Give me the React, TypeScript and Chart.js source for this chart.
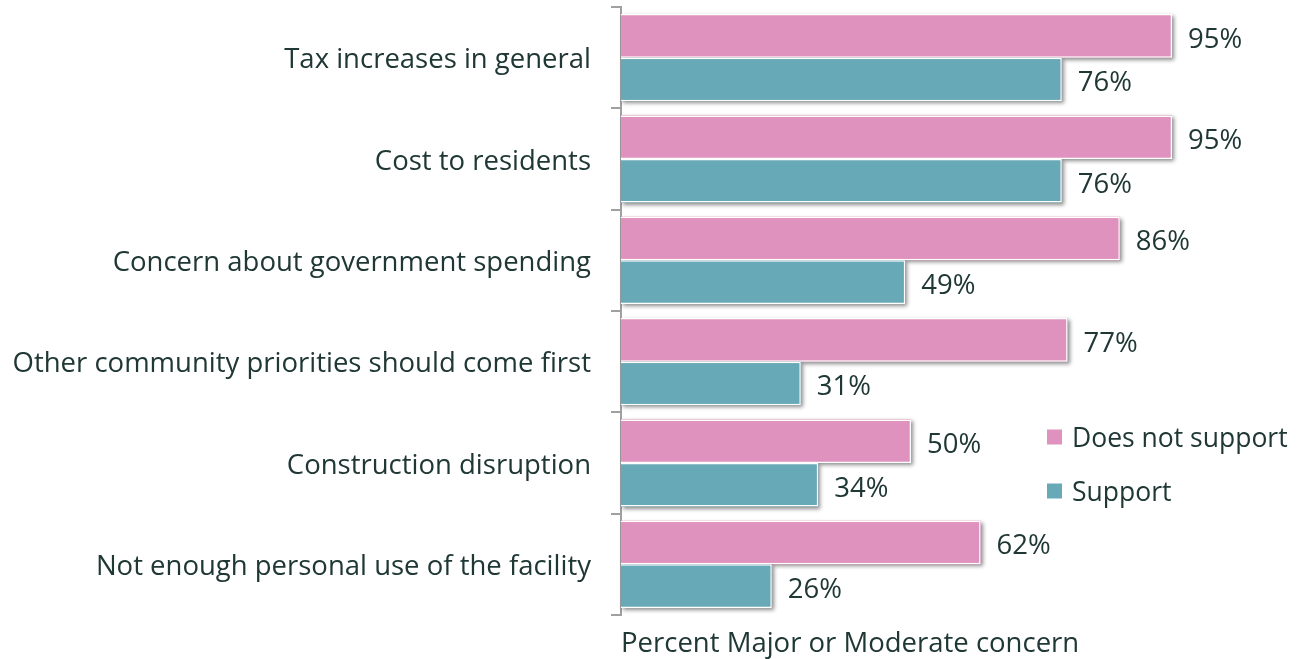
import React, { useEffect, useRef } from "react";
import { Chart, registerables } from "chart.js";

Chart.register(...registerables);

const categories = [
  "Tax increases in general",
  "Cost to residents",
  "Concern about government spending",
  "Other community priorities should come first",
  "Construction disruption",
  "Not enough personal use of the facility",
];
const doesNotSupport = [95, 95, 86, 77, 50, 62];
const support = [76, 76, 49, 31, 34, 26];
const seriesNames = ["Does not support", "Support"];
const axisTitle = "Percent Major or Moderate concern";

const PINK = "#DE92BD";
const TEAL = "#68A9B8";
const TEXT = "#203835";
const FONT = "'Open Sans', 'Noto Sans', sans-serif";

const shadowPlugin = {
  id: "barShadow",
  beforeDatasetsDraw(chart: any) {
    const ctx = chart.ctx;
    ctx.save();
    ctx.shadowColor = "rgba(0,0,0,0.45)";
    ctx.shadowBlur = 4;
    ctx.shadowOffsetX = 2;
    ctx.shadowOffsetY = 2;
    chart.data.datasets.forEach((ds: any, i: number) => {
      const meta = chart.getDatasetMeta(i);
      meta.data.forEach((bar: any) => {
        const { x, y, base, height } = bar.getProps(["x", "y", "base", "height"], true);
        ctx.fillStyle = ds.backgroundColor;
        ctx.fillRect(base, y - height / 2, x - base, height);
      });
    });
    ctx.restore();
  },
  afterDatasetsDraw(chart: any) {
    const ctx = chart.ctx;
    ctx.save();
    ctx.font = `27.5px ${FONT}`;
    ctx.fillStyle = TEXT;
    ctx.textBaseline = "middle";
    ctx.textAlign = "left";
    chart.data.datasets.forEach((ds: any, i: number) => {
      const meta = chart.getDatasetMeta(i);
      meta.data.forEach((bar: any, j: number) => {
        const { x, y } = bar.getProps(["x", "y"], true);
        ctx.fillText(ds.data[j] + "%", x + 16, y + 4);
      });
    });
    // legend
    const area = chart.chartArea;
    const lx = area.left + 426;
    const rows = [area.top + 430, area.top + 484];
    ctx.font = `26.5px ${FONT}`;
    chart.data.datasets.forEach((ds: any, i: number) => {
      const cy = rows[i];
      ctx.fillStyle = ds.backgroundColor;
      ctx.fillRect(lx, cy - 7.5, 15, 15);
      ctx.fillStyle = TEXT;
      ctx.fillText(ds.label, lx + 25, cy + 2);
    });
    ctx.restore();
  },
};

export default function App() {
  const ref = useRef<HTMLCanvasElement>(null);
  useEffect(() => {
    if (!ref.current) return;
    const chart = new Chart(ref.current, {
      type: "bar",
      data: {
        labels: categories,
        datasets: [
          {
            label: seriesNames[0],
            data: doesNotSupport,
            backgroundColor: PINK,
            borderColor: "#FFFFFF",
            borderWidth: 1.5,
          },
          {
            label: seriesNames[1],
            data: support,
            backgroundColor: TEAL,
            borderColor: "#FFFFFF",
            borderWidth: 1.5,
          },
        ],
      },
      options: {
        indexAxis: "y",
        responsive: false,
        animation: false,
        datasets: { bar: { categoryPercentage: 0.86, barPercentage: 1 } },
        layout: { padding: { top: 7, right: 103, bottom: 0, left: 0 } },
        plugins: {
          legend: { display: false },
          tooltip: { enabled: false },
        },
        scales: {
          x: {
            min: 0,
            max: 100,
            grid: { display: false, drawTicks: false },
            border: { display: false },
            ticks: { display: false },
            title: {
              display: true,
              text: axisTitle,
              align: "start",
              color: TEXT,
              font: { family: FONT, size: 27.5 },
              padding: { top: 12.5, bottom: -1.5 },
            },
            afterFit(scale: any) {
              scale.paddingLeft = 0;
              scale.paddingRight = 0;
            },
          },
          y: {
            grid: {
              display: true,
              drawOnChartArea: false,
              drawTicks: true,
              tickLength: 10,
              color: "#A0A0A0",
              lineWidth: 2,
              offset: true,
            },
            border: { display: true, color: "#A0A0A0", width: 2 },
            ticks: {
              color: TEXT,
              padding: 20,
              labelOffset: 3,
              font: { family: FONT, size: 27.5 },
            },
            afterFit(scale: any) {
              scale.width = 621;
              scale.paddingTop = 0;
              scale.paddingBottom = 0;
            },
          },
        },
      },
      plugins: [shadowPlugin],
    });
    return () => chart.destroy();
  }, []);
  return (
    <div style={{ position: "absolute", left: 0, top: 0, width: 1304, height: 659 }}>
      <canvas ref={ref} width={1304} height={659} style={{ display: "block" }} />
    </div>
  );
}
